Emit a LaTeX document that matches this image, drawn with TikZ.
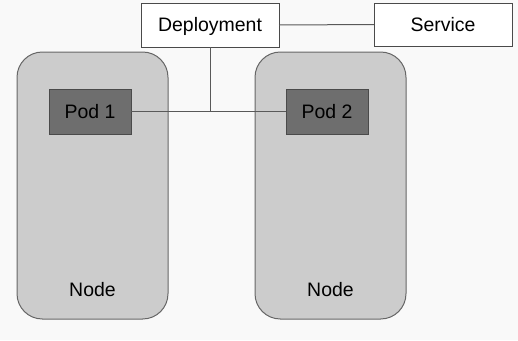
\documentclass[tikz,border=0pt]{standalone}
\usepackage{fontspec}
\setmainfont{Liberation Sans}
\definecolor{bg}{HTML}{F9F9F9}
\definecolor{nodefill}{HTML}{CCCCCC}
\definecolor{nodeborder}{HTML}{666666}
\definecolor{podfill}{HTML}{6E6E6E}
\definecolor{podborder}{HTML}{4A4A4A}
\definecolor{wire}{HTML}{595959}
\begin{document}
\begin{tikzpicture}[x=0.75pt,y=-0.75pt,
  every node/.style={inner sep=0pt, outer sep=0pt},
  lbl/.style={font=\fontsize{14.6pt}{16pt}\selectfont, text height=10.4pt, text depth=0pt},
  host/.style={draw=nodeborder, fill=nodefill, line width=0.75pt, rounded corners=19pt},
  pod/.style={draw=podborder, fill=podfill, line width=0.75pt},
  wbox/.style={draw=podborder, fill=white, line width=0.75pt},
  wire/.style={draw=wire, line width=0.75pt}]
\fill[bg] (0,0) rectangle (518,340);
\useasboundingbox (0,0) rectangle (518,340);
\node[host, minimum width=113.25pt, minimum height=200.25pt, anchor=north west] (n1) at (17,52) {};
\node[host, minimum width=113.25pt, minimum height=200.25pt, anchor=north west] (n2) at (255,52) {};
\node[lbl] (n1l) at (92.5,290) {Node};
\node[lbl] (n2l) at (330.5,290) {Node};
\node[pod, minimum width=61.5pt, minimum height=33.75pt, anchor=north west] (p1) at (49,89) {};
\node[lbl] (p1l) at (p1) {Pod 1};
\node[pod, minimum width=61.5pt, minimum height=33.75pt, anchor=north west] (p2) at (286,89) {};
\node[lbl] (p2l) at (p2) {Pod 2};
\node[wbox, minimum width=103.5pt, minimum height=33pt, anchor=north west] (dep) at (141,3) {};
\node[lbl] (depl) at (dep) {Deployment};
\node[wbox, minimum width=103.5pt, minimum height=32.25pt, anchor=north west] (svc) at (374,3) {};
\node[lbl] (svcl) at (svc) {Service};
\coordinate (j) at (210,111);
\draw[wire] (p1.east) -- (p2.west);
\draw[wire] (dep.south -| j) -- (j);
\draw[wire] (dep.east) -- (svc.west);
\end{tikzpicture}
\end{document}
